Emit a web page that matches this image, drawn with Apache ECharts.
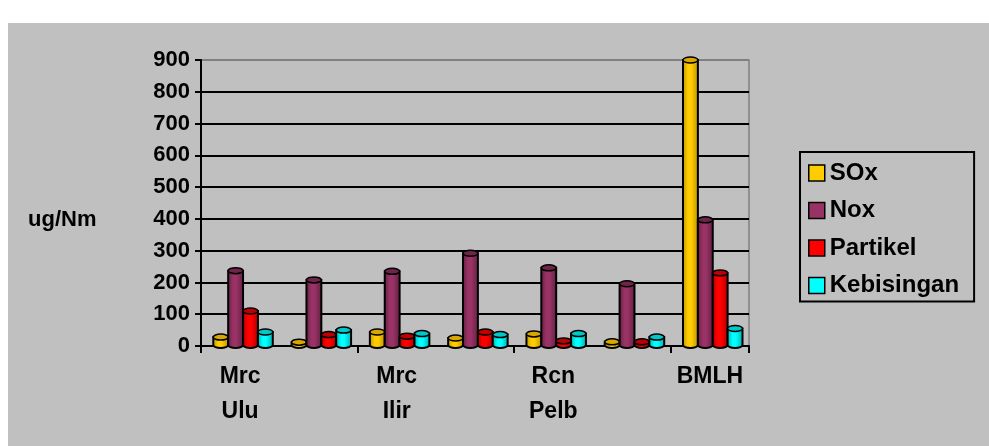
<!DOCTYPE html>
<html>
<head>
<meta charset="utf-8">
<script src="https://cdn.jsdelivr.net/npm/echarts@6/dist/echarts.min.js"></script>
<style>
  html, body { margin: 0; padding: 0; background: #fff; }
  #chart { width: 989px; height: 446px; }
</style>
</head>
<body>
<div id="chart"></div>
<script>
// data
const categories = ['Mrc\nUlu', 'Lokasi 2', 'Mrc\nIlir', 'Lokasi 4', 'Rcn\nPelb', 'Lokasi 6', 'BMLH'];
const seriesNames = ['SOx', 'Nox', 'Partikel', 'Kebisingan'];
const sox = [28, 12, 44, 25, 38, 13, 900];
const nox = [237, 208, 235, 292, 246, 196, 397];
const partikel = [110, 36, 31, 44, 16, 13, 230];
const kebisingan = [44, 50, 39, 36, 39, 28, 55];
const yMax = 900;
const yStep = 100;

// colours: body, dark edge, cap
const palette = [
  { body: '#FFCC00', edge: '#B88F00', cap: '#D9A800' },
  { body: '#993366', edge: '#5E1E3D', cap: '#6E2548' },
  { body: '#FF0000', edge: '#A80000', cap: '#C00000' },
  { body: '#00FFFF', edge: '#00A8A8', cap: '#00C8C8' }
];
const allValues = [sox, nox, partikel, kebisingan];

const chart = echarts.init(document.getElementById('chart'));

// draw one cylinder per data item
function makeRender(si) {
  return function (params, api) {
    const cat = api.value(0);
    const top = api.coord([cat, api.value(1)]);
    const base = api.coord([cat, 0]);
    const band = api.size([1, 0])[0];
    const w = band * 0.19;
    const x = top[0] + band * 0.037 - 2 * w + si * w;
    const ry = 3;
    const baseY = base[1] - 1;
    const c = palette[si];
    const grad = new echarts.graphic.LinearGradient(0, 0, 1, 0, [
      { offset: 0, color: c.edge },
      { offset: 0.35, color: c.body },
      { offset: 0.55, color: c.body },
      { offset: 1, color: c.edge }
    ]);
    const rx = w / 2;
    const path = 'M' + x + ',' + top[1] +
      ' L' + x + ',' + baseY +
      ' A' + rx + ',' + ry + ' 0 0 0 ' + (x + w) + ',' + baseY +
      ' L' + (x + w) + ',' + top[1] + ' Z';
    return {
      type: 'group',
      children: [
        { type: 'path', shape: { pathData: path }, style: { fill: grad, stroke: '#000', lineWidth: 2 } },
        { type: 'ellipse', shape: { cx: x + rx, cy: top[1], rx: rx, ry: ry }, style: { fill: c.cap, stroke: '#000', lineWidth: 1.5 } }
      ]
    };
  };
}

const gridColors = [];
for (let v = 0; v <= yMax; v += yStep) gridColors.push(v === yMax ? '#808080' : '#000');

chart.setOption({
  animation: false,
  backgroundColor: '#fff',
  textStyle: { fontFamily: 'Liberation Sans, Arial, sans-serif' },
  graphic: [
    { type: 'rect', left: 8, top: 23, shape: { width: 981, height: 423 }, style: { fill: '#C0C0C0' }, z: -10 },
    { type: 'text', left: 28, top: 209, style: { text: 'ug/Nm', fontSize: 22, fontWeight: 'bold', fill: '#000', fontFamily: 'Liberation Sans, Arial, sans-serif' } }
  ],
  legend: {
    orient: 'vertical',
    left: 800,
    top: 152,
    data: seriesNames,
    icon: 'rect',
    itemWidth: 16,
    itemHeight: 16,
    itemGap: 13.5,
    padding: [9, 15, 4, 8],
    borderColor: '#000',
    borderWidth: 2,
    itemStyle: { borderColor: '#000', borderWidth: 1.5 },
    textStyle: { fontSize: 24, fontWeight: 'bold', color: '#000', padding: [0, 0, 0, 0] }
  },
  grid: {
    left: 201,
    right: 240,
    top: 60,
    bottom: 100,
    show: true,
    borderColor: '#808080',
    borderWidth: 1.5
  },
  xAxis: {
    type: 'category',
    data: categories,
    axisLine: { lineStyle: { color: '#000', width: 2 } },
    axisTick: { show: true, length: 7, lineStyle: { color: '#000', width: 2 } },
    axisLabel: {
      interval: 1,
      fontSize: 23,
      fontWeight: 'bold',
      color: '#000',
      lineHeight: 35,
      margin: 13
    },
    splitLine: { show: false }
  },
  yAxis: {
    type: 'value',
    min: 0,
    max: yMax,
    interval: yStep,
    axisLine: { show: true, lineStyle: { color: '#000', width: 2 } },
    axisTick: { show: true, length: 6, lineStyle: { color: '#000', width: 2 } },
    axisLabel: { fontSize: 22, fontWeight: 'bold', color: '#000', margin: 11 },
    splitLine: { show: true, lineStyle: { color: gridColors, width: 2 } }
  },
  series: seriesNames.map((name, si) => ({
    name: name,
    type: 'custom',
    renderItem: makeRender(si),
    itemStyle: { color: palette[si].body, borderColor: '#000', borderWidth: 1.5 },
    encode: { x: 0, y: 1 },
    data: allValues[si].map((v, i) => [i, v])
  }))
});
</script>
</body>
</html>
